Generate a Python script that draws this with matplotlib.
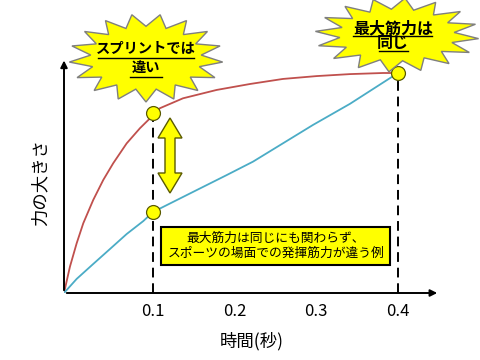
import numpy as np
import matplotlib
matplotlib.use('Agg')
import matplotlib.pyplot as plt
from matplotlib.patches import Polygon, Rectangle

plt.rcParams['font.family'] = ['Noto Sans CJK JP', 'DejaVu Sans']

# force curves (time in s, force relative to max)
sprint_t = [-0.0089, -0.0016, 0.0066, 0.0147, 0.0269, 0.0392, 0.0514, 0.0678, 0.0841,
            0.0964, 0.1, 0.1086, 0.1368, 0.178, 0.2188, 0.2592, 0.3005, 0.3413, 0.3817, 0.4]
sprint_f = [0, 0.12, 0.226, 0.317, 0.423, 0.514, 0.59, 0.68, 0.749,
            0.794, 0.817, 0.84, 0.885, 0.923, 0.95, 0.973, 0.986, 0.995, 1.0, 1.0]
slow_t = [-0.0089, 0.0066, 0.0269, 0.0474, 0.0678, 0.0882, 0.1, 0.1494, 0.1903,
          0.2225, 0.296, 0.3413, 0.4]
slow_f = [0, 0.064, 0.132, 0.2, 0.268, 0.327, 0.368, 0.46, 0.536,
          0.597, 0.764, 0.86, 1.0]
mark_t = [0.1, 0.1, 0.4]
mark_f = [0.817, 0.368, 1.0]
ticks = [0.1, 0.2, 0.3, 0.4]
tick_labels = ['0.1', '0.2', '0.3', '0.4']

fig = plt.figure(figsize=(4.8, 3.6), dpi=100)
W, H = 480, 360
x0, y0, x1, y1 = 64, 293, 440, 5
ax = fig.add_axes([x0 / W, 1 - y0 / H, (x1 - x0) / W, (y0 - y1) / H])
ax.set_xlim(-0.0089, -0.0089 + (x1 - x0) / 816.7)
ax.set_ylim(0, (y0 - y1) / 220)
for s in ax.spines.values():
    s.set_visible(False)
ax.set_yticks([])
ax.set_xticks(ticks)
ax.set_xticklabels(tick_labels, fontsize=12)
ax.tick_params(axis='x', length=0, pad=7)

ax.plot(sprint_t, sprint_f, color='#c0504d', lw=1.3)
ax.plot(slow_t, slow_f, color='#4bacc6', lw=1.3)
ax.vlines([mark_t[0], mark_t[2]], 0, [mark_f[0], mark_f[2]], colors='black',
          linestyles=(0, (5, 3)), lw=1.4)
ax.plot(mark_t, mark_f, 'o', ms=10, mfc='#ffff00', mec='#5a5a00', mew=0.9, zorder=5)

# axis arrows
ax.annotate('', xy=(1.0, 0), xytext=(0, 0), xycoords='axes fraction',
            arrowprops=dict(arrowstyle='-|>', lw=1.4, color='black', mutation_scale=10))
ax.annotate('', xy=(0, 0.817), xytext=(0, 0), xycoords='axes fraction',
            arrowprops=dict(arrowstyle='-|>', lw=1.4, color='black', mutation_scale=10))

ax.set_xlabel('時間(秒)', fontsize=12.5, labelpad=9)

# overlay in pixel coordinates for the callouts
ov = fig.add_axes([0, 0, 1, 1], zorder=3)
ov.set_xlim(0, W)
ov.set_ylim(H, 0)
ov.axis('off')

ov.text(40, 183, '力の大きさ', rotation=90, fontsize=12.5, ha='center', va='center')


def star(cx, cy, rx, ry, n, inner):
    ang = np.linspace(0, 2 * np.pi, 2 * n, endpoint=False) + np.pi / (2 * n)
    r = np.where(np.arange(2 * n) % 2 == 0, 1.0, inner)
    pts = np.column_stack([cx + rx * r * np.cos(ang), cy + ry * r * np.sin(ang)])
    ov.add_patch(Polygon(pts, closed=True, fc='#ffff00', ec='#7f7f7f', lw=1.0))


star(146, 58, 77, 44, 17, 0.72)
star(397, 35, 82, 37, 16, 0.70)

ov.text(146, 49, 'スプリントでは', fontsize=10.3, fontweight='bold', ha='center', va='center')
ov.text(146, 68, '違い', fontsize=10.3, fontweight='bold', ha='center', va='center')
ov.plot([98, 194], [57.5, 57.5], color='black', lw=1)
ov.plot([130, 162], [77, 77], color='black', lw=1)

ov.text(393, 28, '最大筋力は', fontsize=11.5, fontweight='bold', ha='center', va='center')
ov.text(393, 43, '同じ', fontsize=11.5, fontweight='bold', ha='center', va='center')
ov.plot([353, 432], [36, 36], color='black', lw=1)
ov.plot([379, 408], [51, 51], color='black', lw=1)

# double arrow between the two curves at 0.1 s
cx, top, bot = 170, 118, 193
bw, hw, hl = 5, 12, 20
arrow = [(cx, top), (cx + hw, top + hl), (cx + bw, top + hl), (cx + bw, bot - hl),
         (cx + hw, bot - hl), (cx, bot), (cx - hw, bot - hl), (cx - bw, bot - hl),
         (cx - bw, top + hl), (cx - hw, top + hl)]
ov.add_patch(Polygon(arrow, closed=True, fc='#ffff00', ec='#5a5a00', lw=1.0))

ov.add_patch(Rectangle((161, 227), 229, 38, fc='#ffff00', ec='black', lw=1.5))
ov.text(276, 246, '最大筋力は同じにも関わらず、\nスポーツの場面での発揮筋力が違う例',
        fontsize=9.2, ha='center', va='center', linespacing=1.25)

fig.savefig('out.png', dpi=100, facecolor='white')
